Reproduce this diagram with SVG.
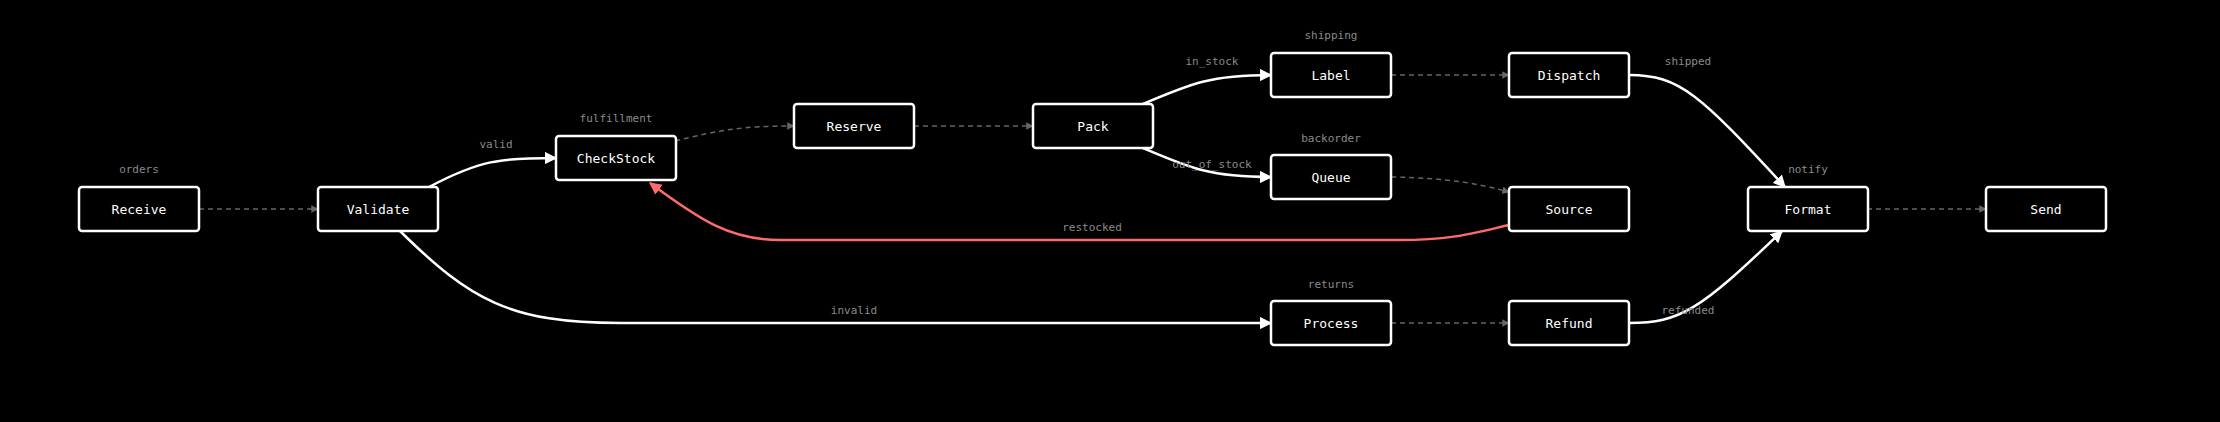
<svg xmlns="http://www.w3.org/2000/svg" width="2220" height="422" viewBox="0 0 2220 422">
<style>
.n rect{fill:#000;stroke:#fff;stroke-width:2.5}
.n text{fill:#fff;font-family:"DejaVu Sans Mono",monospace;font-size:13px;text-anchor:middle;dominant-baseline:central}
.g{fill:#8a8a8a;font-family:"DejaVu Sans Mono",monospace;font-size:11px;text-anchor:middle}
.s{fill:none;stroke:#fff;stroke-width:2.5}
.d{fill:none;stroke:#666;stroke-width:1.5;stroke-dasharray:5 4}
.r{fill:none;stroke:#ff6b6b;stroke-width:2.5}
</style>
<defs>
<marker id="aw" viewBox="0 0 10 10" refX="9" refY="5" markerWidth="5" markerHeight="5" orient="auto" markerUnits="strokeWidth"><path d="M0,0L10,5L0,10z" fill="#fff"/></marker>
<marker id="ag" viewBox="0 0 10 10" refX="9" refY="5" markerWidth="5" markerHeight="5" orient="auto" markerUnits="strokeWidth"><path d="M0,0L10,5L0,10z" fill="#666"/></marker>
<marker id="ar" viewBox="0 0 10 10" refX="9" refY="5" markerWidth="5" markerHeight="5" orient="auto" markerUnits="strokeWidth"><path d="M0,0L10,5L0,10z" fill="#ff6b6b"/></marker>
</defs>
<rect width="2220" height="422" fill="#000"/>
<g id="connectors">
<path class="d" marker-end="url(#ag)" d="M199,209H318"/>
<path class="s" marker-end="url(#aw)" d="M429,187C480,160 500,158 556,158"/>
<path class="s" marker-end="url(#aw)" d="M400,231C470,300 510,323 620,323L1271,323"/>
<path class="d" marker-end="url(#ag)" d="M675,141C720,130 740,126 794,126"/>
<path class="d" marker-end="url(#ag)" d="M914,126H1033"/>
<path class="s" marker-end="url(#aw)" d="M1143,104C1190,84 1210,75 1271,75"/>
<path class="s" marker-end="url(#aw)" d="M1143,148C1190,168 1210,177 1271,177"/>
<path class="d" marker-end="url(#ag)" d="M1391,75H1509"/>
<path class="d" marker-end="url(#ag)" d="M1391,177C1450,178 1480,184 1509,192"/>
<path class="r" marker-end="url(#ar)" d="M1509,225C1470,234 1450,240 1400,240L780,240C730,240 700,220 650,183"/>
<path class="d" marker-end="url(#ag)" d="M1391,323H1509"/>
<path class="s" marker-end="url(#aw)" d="M1629,75C1680,75 1700,95 1785,187"/>
<path class="s" marker-end="url(#aw)" d="M1629,323C1680,323 1700,310 1782,231"/>
<path class="d" marker-end="url(#ag)" d="M1867,209H1986"/>
</g>
<g id="labels">
<text class="g" x="139" y="173">orders</text>
<text class="g" x="616" y="122">fulfillment</text>
<text class="g" x="1331" y="39">shipping</text>
<text class="g" x="1331" y="142">backorder</text>
<text class="g" x="1331" y="288">returns</text>
<text class="g" x="1808" y="173">notify</text>
<text class="g" x="496" y="148">valid</text>
<text class="g" x="1212" y="65">in_stock</text>
<text class="g" x="1212" y="168">out_of_stock</text>
<text class="g" x="1092" y="231">restocked</text>
<text class="g" x="854" y="314">invalid</text>
<text class="g" x="1688" y="65">shipped</text>
<text class="g" x="1688" y="314">refunded</text>
</g>
<g id="Receive" class="n"><rect x="79" y="187" width="120" height="44" rx="3"/><text x="139" y="209">Receive</text></g>
<g id="Validate" class="n"><rect x="318" y="187" width="120" height="44" rx="3"/><text x="378" y="209">Validate</text></g>
<g id="CheckStock" class="n"><rect x="556" y="136" width="120" height="44" rx="3"/><text x="616" y="158">CheckStock</text></g>
<g id="Reserve" class="n"><rect x="794" y="104" width="120" height="44" rx="3"/><text x="854" y="126">Reserve</text></g>
<g id="Pack" class="n"><rect x="1033" y="104" width="120" height="44" rx="3"/><text x="1093" y="126">Pack</text></g>
<g id="Label" class="n"><rect x="1271" y="53" width="120" height="44" rx="3"/><text x="1331" y="75">Label</text></g>
<g id="Queue" class="n"><rect x="1271" y="155" width="120" height="44" rx="3"/><text x="1331" y="177">Queue</text></g>
<g id="Process" class="n"><rect x="1271" y="301" width="120" height="44" rx="3"/><text x="1331" y="323">Process</text></g>
<g id="Dispatch" class="n"><rect x="1509" y="53" width="120" height="44" rx="3"/><text x="1569" y="75">Dispatch</text></g>
<g id="Source" class="n"><rect x="1509" y="187" width="120" height="44" rx="3"/><text x="1569" y="209">Source</text></g>
<g id="Refund" class="n"><rect x="1509" y="301" width="120" height="44" rx="3"/><text x="1569" y="323">Refund</text></g>
<g id="Format" class="n"><rect x="1748" y="187" width="120" height="44" rx="3"/><text x="1808" y="209">Format</text></g>
<g id="Send" class="n"><rect x="1986" y="187" width="120" height="44" rx="3"/><text x="2046" y="209">Send</text></g>
</svg>
